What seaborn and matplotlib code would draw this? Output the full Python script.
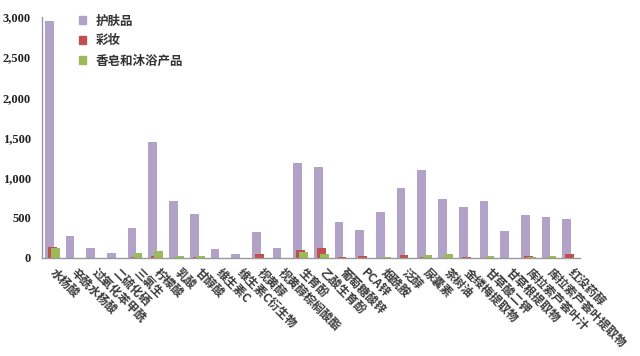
import matplotlib
matplotlib.use("Agg")
import matplotlib.pyplot as plt
import matplotlib.patches as mpatches
import seaborn as sns
import pandas as pd

ingredients = [
    "水杨酸", "辛酰水杨酸", "过氧化苯甲酰", "二硫化硒", "三氯生", "柠檬酸", "乳酸",
    "甘醇酸", "维生素C", "维生素C衍生物", "视黄醇", "视黄醇棕榈酸酯", "生育酚",
    "乙酸生育酚", "葡萄糖酸锌", "PCA锌", "烟酰胺", "泛醇", "尿囊素", "茶树油",
    "金缕梅提取物", "甘草酸二钾", "甘草根提取物", "库拉索芦荟叶汁",
    "库拉索芦荟叶提取物", "红没药醇",
]
skincare = [2950, 270, 130, 65, 370, 1440, 710, 550, 110, 45, 320, 125, 1185,
            1130, 445, 345, 570, 870, 1090, 740, 635, 705, 340, 535, 510, 485]
makeup = [135, 0, 0, 0, 12, 22, 0, 10, 0, 0, 45, 0, 100,
          125, 8, 25, 0, 35, 15, 0, 10, 0, 0, 20, 0, 55]
soap_bath = [120, 0, 0, 0, 60, 85, 25, 20, 0, 0, 0, 0, 75,
             50, 0, 0, 10, 5, 40, 55, 5, 30, 0, 15, 25, 5]
series_names = ["护肤品", "彩妆", "香皂和沐浴产品"]
colors = ["#B3A2C7", "#C0504D", "#9BBB59"]

df = pd.DataFrame({
    "成分": ingredients * 3,
    "数量": skincare + makeup + soap_bath,
    "类别": [series_names[0]] * len(ingredients)
    + [series_names[1]] * len(ingredients)
    + [series_names[2]] * len(ingredients),
})

sns.set_style("white")
plt.rcParams["font.family"] = ["Noto Sans CJK SC", "DejaVu Sans"]

fig = plt.figure(figsize=(6.4, 3.56), dpi=100)
ax = fig.add_axes([0.0656, 0.2753, 0.8406, 0.677])

sns.barplot(
    data=df, x="成分", y="数量", hue="类别",
    order=ingredients, hue_order=series_names, palette=colors,
    dodge=True, width=0.435, gap=0, errorbar=None, saturation=1,
    ax=ax,
)

# overlapping bars, like the original
for cont in ax.containers:
    for bar in cont:
        c = bar.get_x() + bar.get_width() / 2
        bar.set_width(0.42)
        bar.set_x(c - 0.21)
        bar.set_linewidth(0)

ax.set_xlim(-0.5, len(ingredients) - 0.5)
ax.set_ylim(0, 3000)
ax.set_yticks(range(0, 3001, 500))
ax.set_yticklabels([f"{v:,}" for v in range(0, 3001, 500)],
                   family="Liberation Serif", fontweight="bold", fontsize=9,
                   color="#222222")
ax.set_xticks(range(len(ingredients)))
ax.set_xticklabels(ingredients, rotation=-45, ha="left", va="center",
                   rotation_mode="anchor", fontsize=8.5, fontweight="bold",
                   color="#3a3a3a")
ax.tick_params(axis="x", length=0, pad=9)
ax.tick_params(axis="y", length=0, pad=8)
ax.set_xlabel("")
ax.set_ylabel("")

for side in ["top", "right"]:
    ax.spines[side].set_visible(False)
for side in ["left", "bottom"]:
    ax.spines[side].set_color("#999999")
    ax.spines[side].set_linewidth(1)

handles = [mpatches.Patch(color=c) for c in colors]
leg = ax.legend(
    handles, series_names, loc="upper left", bbox_to_anchor=(0.068, 1.01),
    frameon=False, handlelength=0.6, handleheight=0.6, handletextpad=0.8,
    labelspacing=0.55, borderpad=0, borderaxespad=0,
    prop={"family": ["Noto Sans CJK SC", "DejaVu Sans"], "size": 9, "weight": "bold"},
)
for t in leg.get_texts():
    t.set_color("#333333")

fig.savefig("out.png", dpi=100)
plt.close(fig)
